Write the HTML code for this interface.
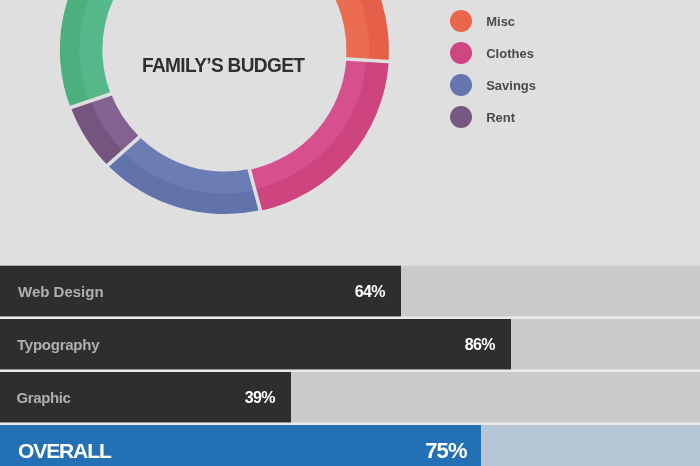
<!DOCTYPE html>
<html><head><meta charset="utf-8"><title>Family's Budget</title>
<style>
html,body{margin:0;padding:0;}
body{width:700px;height:466px;overflow:hidden;background:#dfdfdf;position:relative;font-family:"Liberation Sans",sans-serif;font-weight:bold;}
svg.donut{position:absolute;left:0;top:0;}
.title{position:absolute;left:141.5px;top:53px;font-size:20px;line-height:24px;color:#2f3033;white-space:nowrap;transform-origin:0 0;letter-spacing:-0.7px;transform:scaleX(0.955);}
.dot{position:absolute;width:22px;height:22px;border-radius:50%;left:450px;}
.lg{position:absolute;left:486.2px;font-size:13px;line-height:16px;color:#4a4a4c;white-space:nowrap;}
.bar{position:absolute;left:0;width:700px;height:50px;}
svg.bars{position:absolute;left:0;top:260px;}
.bar .lab{position:absolute;left:18px;top:17px;font-size:15px;line-height:18px;color:#b0b0b0;white-space:nowrap;}
.bar .pct{position:absolute;top:17px;font-size:16px;line-height:18px;color:#fff;white-space:nowrap;text-align:right;letter-spacing:-0.7px;margin-right:-0.7px;}
</style></head><body>
<svg class="donut" width="700" height="260" viewBox="0 0 700 260">
<path d="M252.79 -111.02A163.5 163.5 0 0 1 387.46 61.97L345.57 58.90A121.5 121.5 0 0 0 245.50 -69.65Z" fill="#eb6c52" transform="translate(0.45 -0.3)"/>
<path d="M252.88 -111.51A164.0 164.0 0 0 1 387.96 62.01L368.41 60.58A144.4 144.4 0 0 0 249.47 -92.21Z" fill="#e66049" transform="translate(0.45 -0.3)"/>
<path d="M387.46 61.97A163.5 163.5 0 0 1 259.51 209.69L250.49 168.67A121.5 121.5 0 0 0 345.57 58.90Z" fill="#d5508c" transform="translate(0.77 0.64)"/>
<path d="M387.96 62.01A164.0 164.0 0 0 1 259.62 210.17L254.81 188.30A141.6 141.6 0 0 0 365.62 60.37Z" fill="#cd447f" transform="translate(0.77 0.64)"/>
<path d="M259.51 209.69A163.5 163.5 0 0 1 109.19 166.01L138.79 136.21A121.5 121.5 0 0 0 250.49 168.67Z" fill="#6c7db6"/>
<path d="M259.62 210.17A164.0 164.0 0 0 1 108.84 166.37L123.21 151.89A143.6 143.6 0 0 0 255.24 190.25Z" fill="#6272ab"/>
<path d="M109.19 166.01A163.5 163.5 0 0 1 71.35 107.53L110.67 92.75A121.5 121.5 0 0 0 138.79 136.21Z" fill="#84628f"/>
<path d="M108.84 166.37A164.0 164.0 0 0 1 70.89 107.70L90.36 100.38A143.2 143.2 0 0 0 123.50 151.61Z" fill="#75557f"/>
<path d="M71.35 107.53A163.5 163.5 0 0 1 280.32 -103.64L265.96 -64.17A121.5 121.5 0 0 0 110.67 92.75Z" fill="#55b88a" transform="translate(-0.5 -0.3)"/>
<path d="M70.89 107.70A164.0 164.0 0 0 1 280.49 -104.11L273.79 -85.69A144.4 144.4 0 0 0 89.23 100.81Z" fill="#4caf7e" transform="translate(-0.5 -0.3)"/>
<line x1="113.04" y1="93.24" x2="66.91" y2="108.78" stroke="#dfdfdf" stroke-width="3.6"/>
<line x1="141.23" y1="135.30" x2="105.42" y2="167.37" stroke="#dfdfdf" stroke-width="3.6"/>
<line x1="248.72" y1="167.40" x2="261.14" y2="213.36" stroke="#dfdfdf" stroke-width="3.6"/>
<line x1="342.71" y1="58.71" x2="391.39" y2="61.75" stroke="#dfdfdf" stroke-width="3.6"/>
</svg>
<div class="title">FAMILY’S BUDGET</div>
<div class="dot" style="top:10px;background:#e9654b"></div><div class="lg" style="top:13.5px">Misc</div>
<div class="dot" style="top:42px;background:#cf4681"></div><div class="lg" style="top:45.5px">Clothes</div>
<div class="dot" style="top:74px;background:#6475b0"></div><div class="lg" style="top:77.5px">Savings</div>
<div class="dot" style="top:106px;background:#765880"></div><div class="lg" style="top:109.5px">Rent</div>

<svg class="bars" width="700" height="206" viewBox="0 260 700 206">
<rect x="0" y="265.7" width="700" height="200.3" fill="#eaeaea"/>
<rect x="0" y="265.7" width="700" height="50.7" fill="#cacaca"/><rect x="0" y="265.7" width="401" height="50.7" fill="#2e2e2e"/>
<rect x="0" y="319" width="700" height="50.4" fill="#cacaca"/><rect x="0" y="319" width="511" height="50.4" fill="#2e2e2e"/>
<rect x="0" y="372" width="700" height="50.4" fill="#cacaca"/><rect x="0" y="372" width="291" height="50.4" fill="#2e2e2e"/>
<rect x="0" y="425" width="700" height="41" fill="#b6c6d6"/><rect x="0" y="425" width="481" height="41" fill="#2470b4"/>
</svg>
<div class="bar" style="top:266px"><div class="lab">Web Design</div><div class="pct" style="right:316px">64%</div></div>
<div class="bar" style="top:319px"><div class="lab" style="left:17px;letter-spacing:-0.25px">Typography</div><div class="pct" style="right:206px">86%</div></div>
<div class="bar" style="top:372px"><div class="lab" style="left:16.5px;letter-spacing:-0.4px">Graphic</div><div class="pct" style="right:426px">39%</div></div>
<div class="bar" style="top:425px"><div class="lab" style="left:18px;top:14px;font-size:21px;line-height:24px;color:#fff;letter-spacing:-1.1px">OVERALL</div><div class="pct" style="right:234px;top:13.5px;font-size:22px;line-height:24px;letter-spacing:-0.8px;margin-right:-0.8px">75%</div></div>
</body></html>
